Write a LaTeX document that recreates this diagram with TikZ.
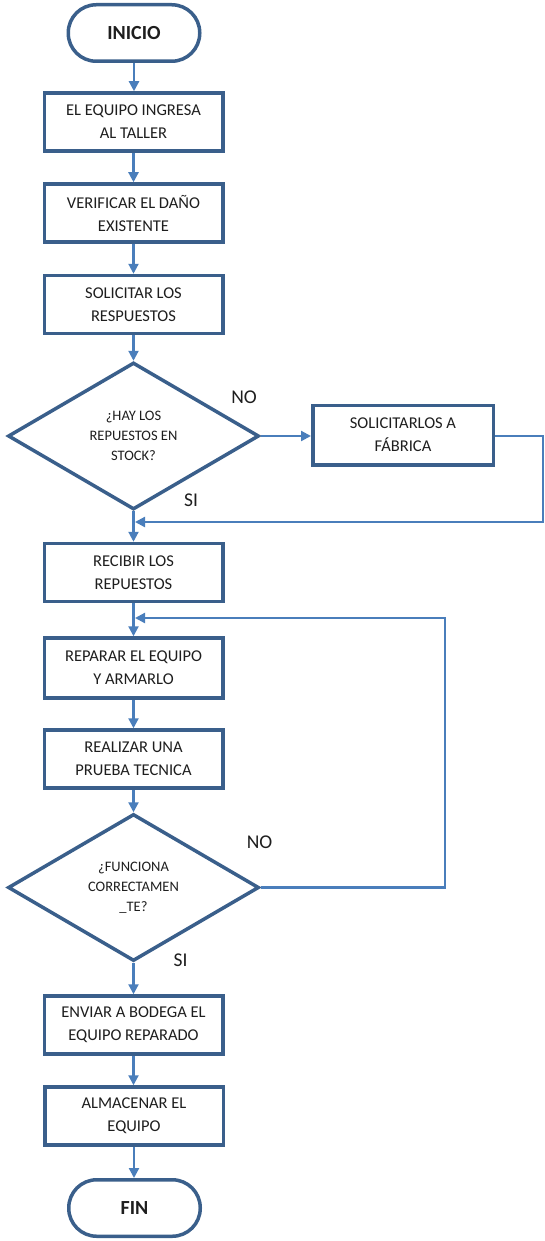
\documentclass[tikz,border=0pt]{standalone}
\usepackage{fontspec}
\setmainfont{Carlito}
\usetikzlibrary{arrows.meta,shapes.geometric}
\definecolor{boxblue}{HTML}{3A5F8B}
\definecolor{linkblue}{HTML}{4A7EBB}
\definecolor{inkgray}{HTML}{1E1E1E}

\tikzset{
  stepbox/.style={draw=boxblue, line width=3.5pt, fill=white,
    minimum width=178.5pt, minimum height=58pt, inner sep=0pt,
    align=center, text=inkgray, font=\fontsize{16.5}{23}\selectfont},
  terminal/.style={draw=boxblue, line width=3.5pt, rounded corners=28pt,
    minimum width=131.5pt, minimum height=56.5pt, inner sep=0pt,
    text=inkgray, font=\bfseries\fontsize{20}{24}\selectfont},
  decision/.style={diamond, draw=boxblue, line width=3.5pt,
    minimum width=251pt, minimum height=147pt, inner sep=0pt, aspect=1.7,
    align=center, text=inkgray, font=\fontsize{14.5}{20}\selectfont},
  conn/.style={draw=linkblue, line width=2.2pt,
    -{Triangle[length=10pt,width=10pt]}},
  answer/.style={font=\fontsize{19.5}{22}\selectfont, inner sep=0pt, text=inkgray}
}

\begin{document}
\begin{tikzpicture}[x=1pt,y=-1pt]
  \useasboundingbox (0,0) rectangle (545,1241);

  % main column
  \node[terminal] (inicio) at (134,33) {INICIO};
  \node[stepbox] (b1) at (133.5,122) {EL EQUIPO INGRESA\\AL TALLER};
  \node[stepbox] (b2) at (133.5,213) {VERIFICAR EL DAÑO\\EXISTENTE};
  \node[stepbox] (b3) at (133.5,304.5) {SOLICITAR LOS\\RESPUESTOS};
  \node[decision] (d1) at (133.5,436) {¿HAY LOS\\REPUESTOS EN\\STOCK?};
  \node[stepbox, minimum width=180.5pt, minimum height=59.5pt] (fab) at (403,435) {SOLICITARLOS A\\FÁBRICA};
  \node[stepbox] (recibir) at (133.5,572.5) {RECIBIR LOS\\REPUESTOS};
  \node[stepbox, minimum height=60pt] (reparar) at (133.5,668) {REPARAR EL EQUIPO\\Y ARMARLO};
  \node[stepbox] (realizar) at (133.5,759) {REALIZAR UNA\\PRUEBA TECNICA};
  \node[decision] (d2) at (133.5,887.5) {¿FUNCIONA\\CORRECTAMEN\\\_TE?};
  \node[stepbox] (enviar) at (133.5,1025) {ENVIAR A BODEGA EL\\EQUIPO REPARADO};
  \node[stepbox] (almacenar) at (134,1116) {ALMACENAR EL\\EQUIPO};
  \node[terminal] (fin) at (134.5,1208) {FIN};

  % branch labels
  \node[answer] (no1) at (244,397) {NO};
  \node[answer] (si1) at (191,500) {SI};
  \node[answer] (no2) at (259.5,842) {NO};
  \node[answer] (si2) at (180.5,960) {SI};

  % junction points on the main column
  \coordinate (j1) at (135,522);
  \coordinate (j2) at (135,618);

  % straight connectors, kept vertical
  \draw[conn] (inicio.south) -- (inicio.south |- b1.north);
  \draw[conn] (b1.south) -- (b1.south |- b2.north);
  \draw[conn] (b2.south) -- (b2.south |- b3.north);
  \draw[conn] (b3.south) -- (b3.south |- d1.north);
  \draw[conn] (d1.east) -- (d1.east -| fab.west);
  \draw[conn] (d1.south) -- (d1.south |- recibir.north);
  \draw[conn] (recibir.south) -- (recibir.south |- reparar.north);
  \draw[conn] (reparar.south) -- (reparar.south |- realizar.north);
  \draw[conn] (realizar.south) -- (realizar.south |- d2.north);
  \draw[conn] (d2.south) -- (d2.south |- enviar.north);
  \draw[conn] (enviar.south) -- (enviar.south |- almacenar.north);
  \draw[conn] (almacenar.south) -- (almacenar.south |- fin.north);

  % return paths
  \draw[conn] (d1.east -| fab.east) -- (543,436) |- (j1);
  \draw[conn] (d2.east) -- (445,887.5) |- (j2);
\end{tikzpicture}
\end{document}
